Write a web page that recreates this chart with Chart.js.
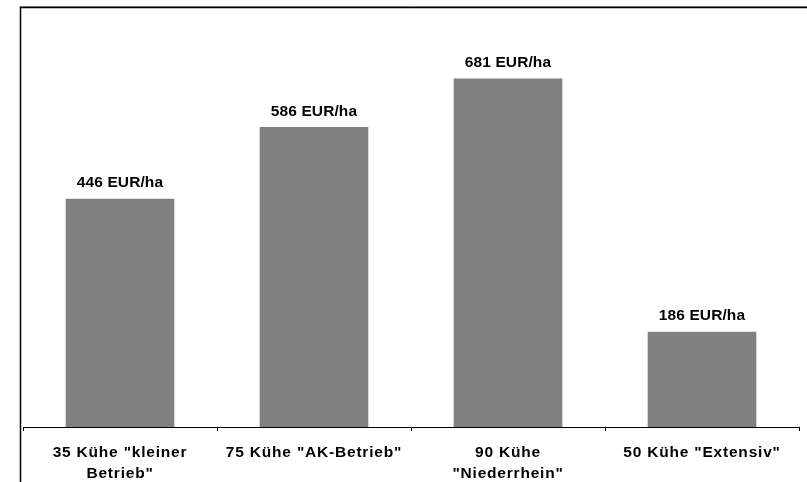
<!DOCTYPE html>
<html>
<head>
<meta charset="utf-8">
<script src="https://cdn.jsdelivr.net/npm/chart.js@4/dist/chart.umd.min.js"></script>
<style>
  html, body { margin: 0; padding: 0; background: #fff; }
  #wrap { width: 807px; height: 482px; position: relative; }
</style>
</head>
<body>
<div id="wrap"><canvas id="c" width="807" height="482"></canvas></div>
<script>
// Farm types (two-line labels where the name wraps)
const categories = [
  ['35 Kühe "kleiner', 'Betrieb"'],
  ['75 Kühe "AK-Betrieb"'],
  ['90 Kühe', '"Niederrhein"'],
  ['50 Kühe "Extensiv"']
];
// Result per hectare
const values = [446, 586, 681, 186];
const valueUnit = 'EUR/ha';

const FONT = '"Liberation Sans", Arial, sans-serif';

// Outer frame of the chart object
const framePlugin = {
  id: 'frame',
  beforeDraw(chart) {
    const ctx = chart.ctx;
    ctx.save();
    ctx.strokeStyle = '#9a9a9a';
    ctx.lineWidth = 1;
    ctx.beginPath();
    ctx.moveTo(19.5, 6.5); ctx.lineTo(900, 6.5);
    ctx.stroke();
    ctx.strokeStyle = '#000';
    ctx.lineWidth = 1.5;
    ctx.beginPath();
    ctx.moveTo(20.5, 600); ctx.lineTo(20.5, 7.5); ctx.lineTo(900, 7.5);
    ctx.stroke();
    ctx.restore();
    // slightly wider letter spacing for the axis labels
    ctx.letterSpacing = '0.8px';
  }
};

// Value labels above each bar
const valueLabels = {
  id: 'valueLabels',
  afterDatasetsDraw(chart) {
    const ctx = chart.ctx;
    const meta = chart.getDatasetMeta(0);
    ctx.save();
    ctx.letterSpacing = '0.1px';
    ctx.font = 'bold 15.5px ' + FONT;
    ctx.fillStyle = '#000';
    ctx.textAlign = 'center';
    ctx.textBaseline = 'alphabetic';
    meta.data.forEach((bar, i) => {
      const v = chart.data.datasets[0].data[i];
      ctx.fillText(v + ' ' + valueUnit, bar.x, bar.y - 11.5);
    });
    ctx.restore();
  }
};

new Chart(document.getElementById('c'), {
  type: 'bar',
  data: {
    labels: categories,
    datasets: [{
      data: values,
      backgroundColor: '#808080',
      borderWidth: 0,
      barPercentage: 0.56,
      categoryPercentage: 1
    }]
  },
  options: {
    responsive: false,
    animation: false,
    devicePixelRatio: 1,
    layout: { padding: { left: 23, right: 8, top: 17.6, bottom: 0 } },
    plugins: { legend: { display: false }, tooltip: { enabled: false } },
    scales: {
      y: { display: false, min: 0, max: 800 },
      x: {
        afterFit(scale) { scale.height = 55; },
        border: { display: true, color: '#000', width: 1 },
        grid: {
          display: true,
          drawOnChartArea: false,
          drawTicks: true,
          tickLength: 4,
          color: '#000',
          offset: true
        },
        ticks: {
          color: '#000',
          padding: 11.5,
          maxRotation: 0,
          autoSkip: false,
          font: { family: FONT, weight: 'bold', size: 15.5, lineHeight: 1.34 }
        }
      }
    }
  },
  plugins: [framePlugin, valueLabels]
});
</script>
</body>
</html>
